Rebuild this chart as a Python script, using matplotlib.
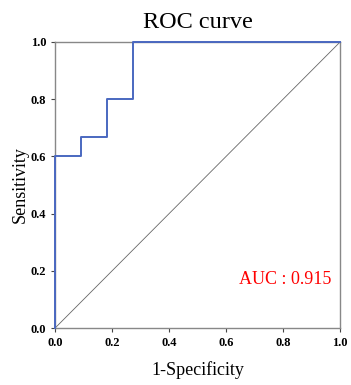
import matplotlib
matplotlib.use("Agg")
import matplotlib.pyplot as plt

fpr = [0.0, 0.0, 1/11, 1/11, 2/11, 2/11, 3/11, 3/11, 1.0]
tpr = [0.0, 0.6, 0.6, 2/3, 2/3, 0.8, 0.8, 1.0, 1.0]
auc_value = 0.915
ticks = [0.0, 0.2, 0.4, 0.6, 0.8, 1.0]

plt.rcParams['font.family'] = ['Liberation Serif', 'DejaVu Serif']

fig = plt.figure(figsize=(3.51, 3.85), dpi=100)
ax = fig.add_axes([0.157, 0.148, 0.812, 0.743])
ax.plot([0, 1], [0, 1], color='#666666', lw=0.6)
ax.plot(fpr, tpr, color='#4a68c0', lw=1.4, clip_on=False, zorder=5)
ax.set_xlim(0, 1)
ax.set_ylim(0, 1)
ax.set_xticks(ticks)
ax.set_yticks(ticks)
ax.set_xticklabels([f"{t:.1f}" for t in ticks], fontweight='bold', fontsize=9)
ax.set_yticklabels([f"{t:.1f}" for t in ticks], fontweight='bold', fontsize=9)
for s in ax.spines.values():
    s.set_color('#888888')
    s.set_linewidth(1.0)
ax.tick_params(length=3, color='#444444', width=0.8)
ax.set_title("ROC curve", fontsize=17.5, pad=10)
ax.set_xlabel("1-Specificity", fontsize=13, labelpad=9)
ax.set_ylabel("Sensitivity", fontsize=13, labelpad=1)
ax.text(0.97, 0.17, f"AUC : {auc_value:.3f}", color='red', fontsize=13,
        ha='right', va='center', transform=ax.transAxes)
fig.savefig("out.png", dpi=100)
